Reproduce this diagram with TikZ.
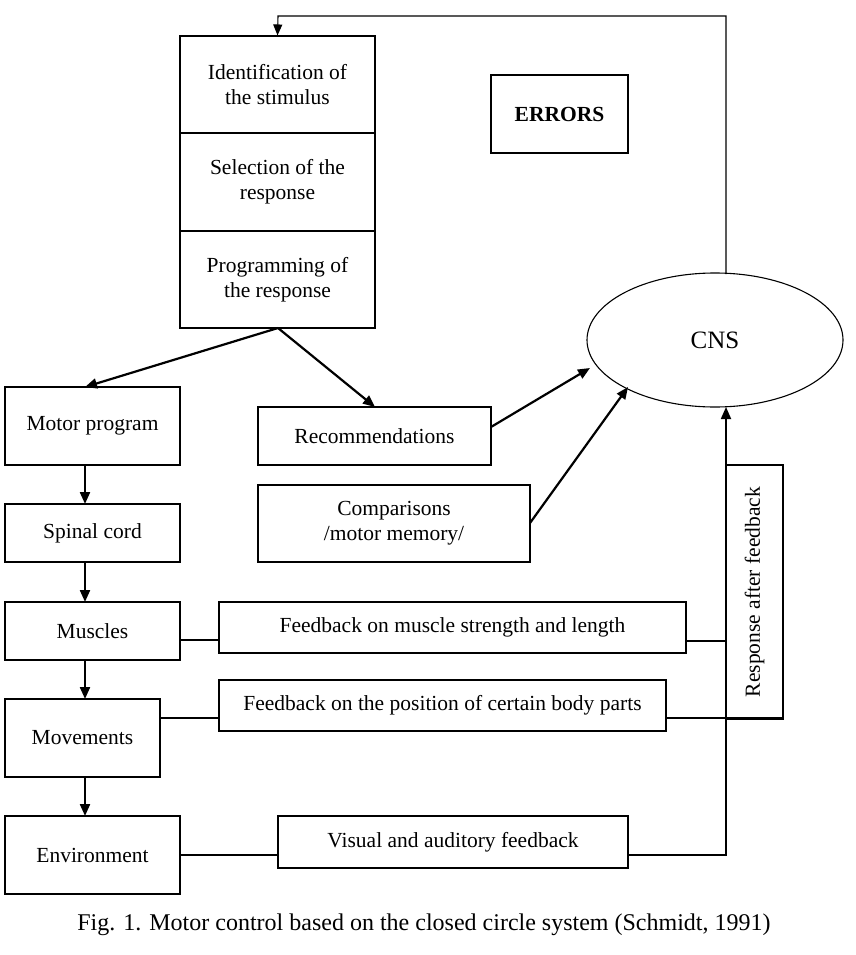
\documentclass[tikz,border=0pt]{standalone}
\usepackage{fontspec}
\setmainfont{Liberation Serif}
\usetikzlibrary{arrows.meta,shapes.geometric}
\begin{document}
\begin{tikzpicture}[x=1pt,y=-1pt,line width=1.1pt,
  every node/.style={font=\fontsize{21.5}{25}\selectfont},
  box/.style={draw,inner sep=0pt,align=center},
  arr/.style={-{Triangle[length=12pt,width=10pt]},line width=2.2pt}]
\useasboundingbox (0,0) rectangle (856,955);
\newcommand{\bx}[6]{\node[box,minimum width=#4-#2,minimum height=#5-#3] (#1) at ({(#2+#4)/2},{(#3+#5)/2}) {#6};}
\bx{ident}{180}{36}{375}{133}{Identification of\\the stimulus}
\bx{sel}{180}{133}{375}{231}{Selection of the\\response}
\bx{prog}{180}{231}{375}{328}{Programming of\\the response}
\bx{err}{491}{75}{628}{153}{\textbf{ERRORS}}
\node[draw,ellipse,minimum width=256,minimum height=134,inner sep=0pt,font=\fontsize{25}{28}\selectfont] (cns) at (715,340) {CNS};
\bx{mp}{5}{387}{180}{465}{Motor program}
\bx{rec}{258}{407}{491}{465}{Recommendations}
\bx{cmp}{258}{485}{530}{562}{Comparisons\\/motor memory/}
\bx{sc}{5}{504}{180}{562}{Spinal cord}
\bx{mus}{5}{602}{180}{660}{Muscles}
\bx{fm}{219}{602}{686}{653}{Feedback on muscle strength and length}
\bx{mov}{5}{699}{160}{777}{Movements}
\bx{fp}{219}{680}{666}{731}{Feedback on the position of certain body parts}
\bx{env}{5}{816}{180}{894}{Environment}
\bx{vis}{278}{816}{628}{868}{Visual and auditory feedback}
\bx{resp}{726}{465}{783}{719}{\rotatebox{90}{Response after feedback}}
\coordinate (pb) at (278,328);
\draw[arr] (pb) -- (85,387);
\draw[arr] (pb) -- (375,407);
\draw[arr] (491,427) -- (590,368);
\draw[arr] (530,523) -- (628,387);
\draw[arr] (85,465) -- (85,504);
\draw[arr] (85,562) -- (85,602);
\draw[arr] (85,660) -- (85,699);
\draw[arr] (85,777) -- (85,816);
\draw (180,640) -- (219,640);
\draw (686,641) -- (726,641);
\draw (160,718) -- (219,718);
\draw (666,718) -- (783,718);
\draw (180,855) -- (278,855);
\draw (628,855) -- (726,855);
\draw[arr,line width=1.8pt] (726,856) -- (726,407);
\coordinate (t1) at (726,16);
\coordinate (t2) at (278,16);
\draw[-{Triangle[length=11pt,width=9pt]},line width=1.1pt] (726,274) -- (t1) -- (t2) -- (ident.north);
\node[font=\fontsize{24}{28}\selectfont] at (424,925) {Fig. 1. Motor control based on the closed circle system (Schmidt, 1991)};
\end{tikzpicture}
\end{document}
